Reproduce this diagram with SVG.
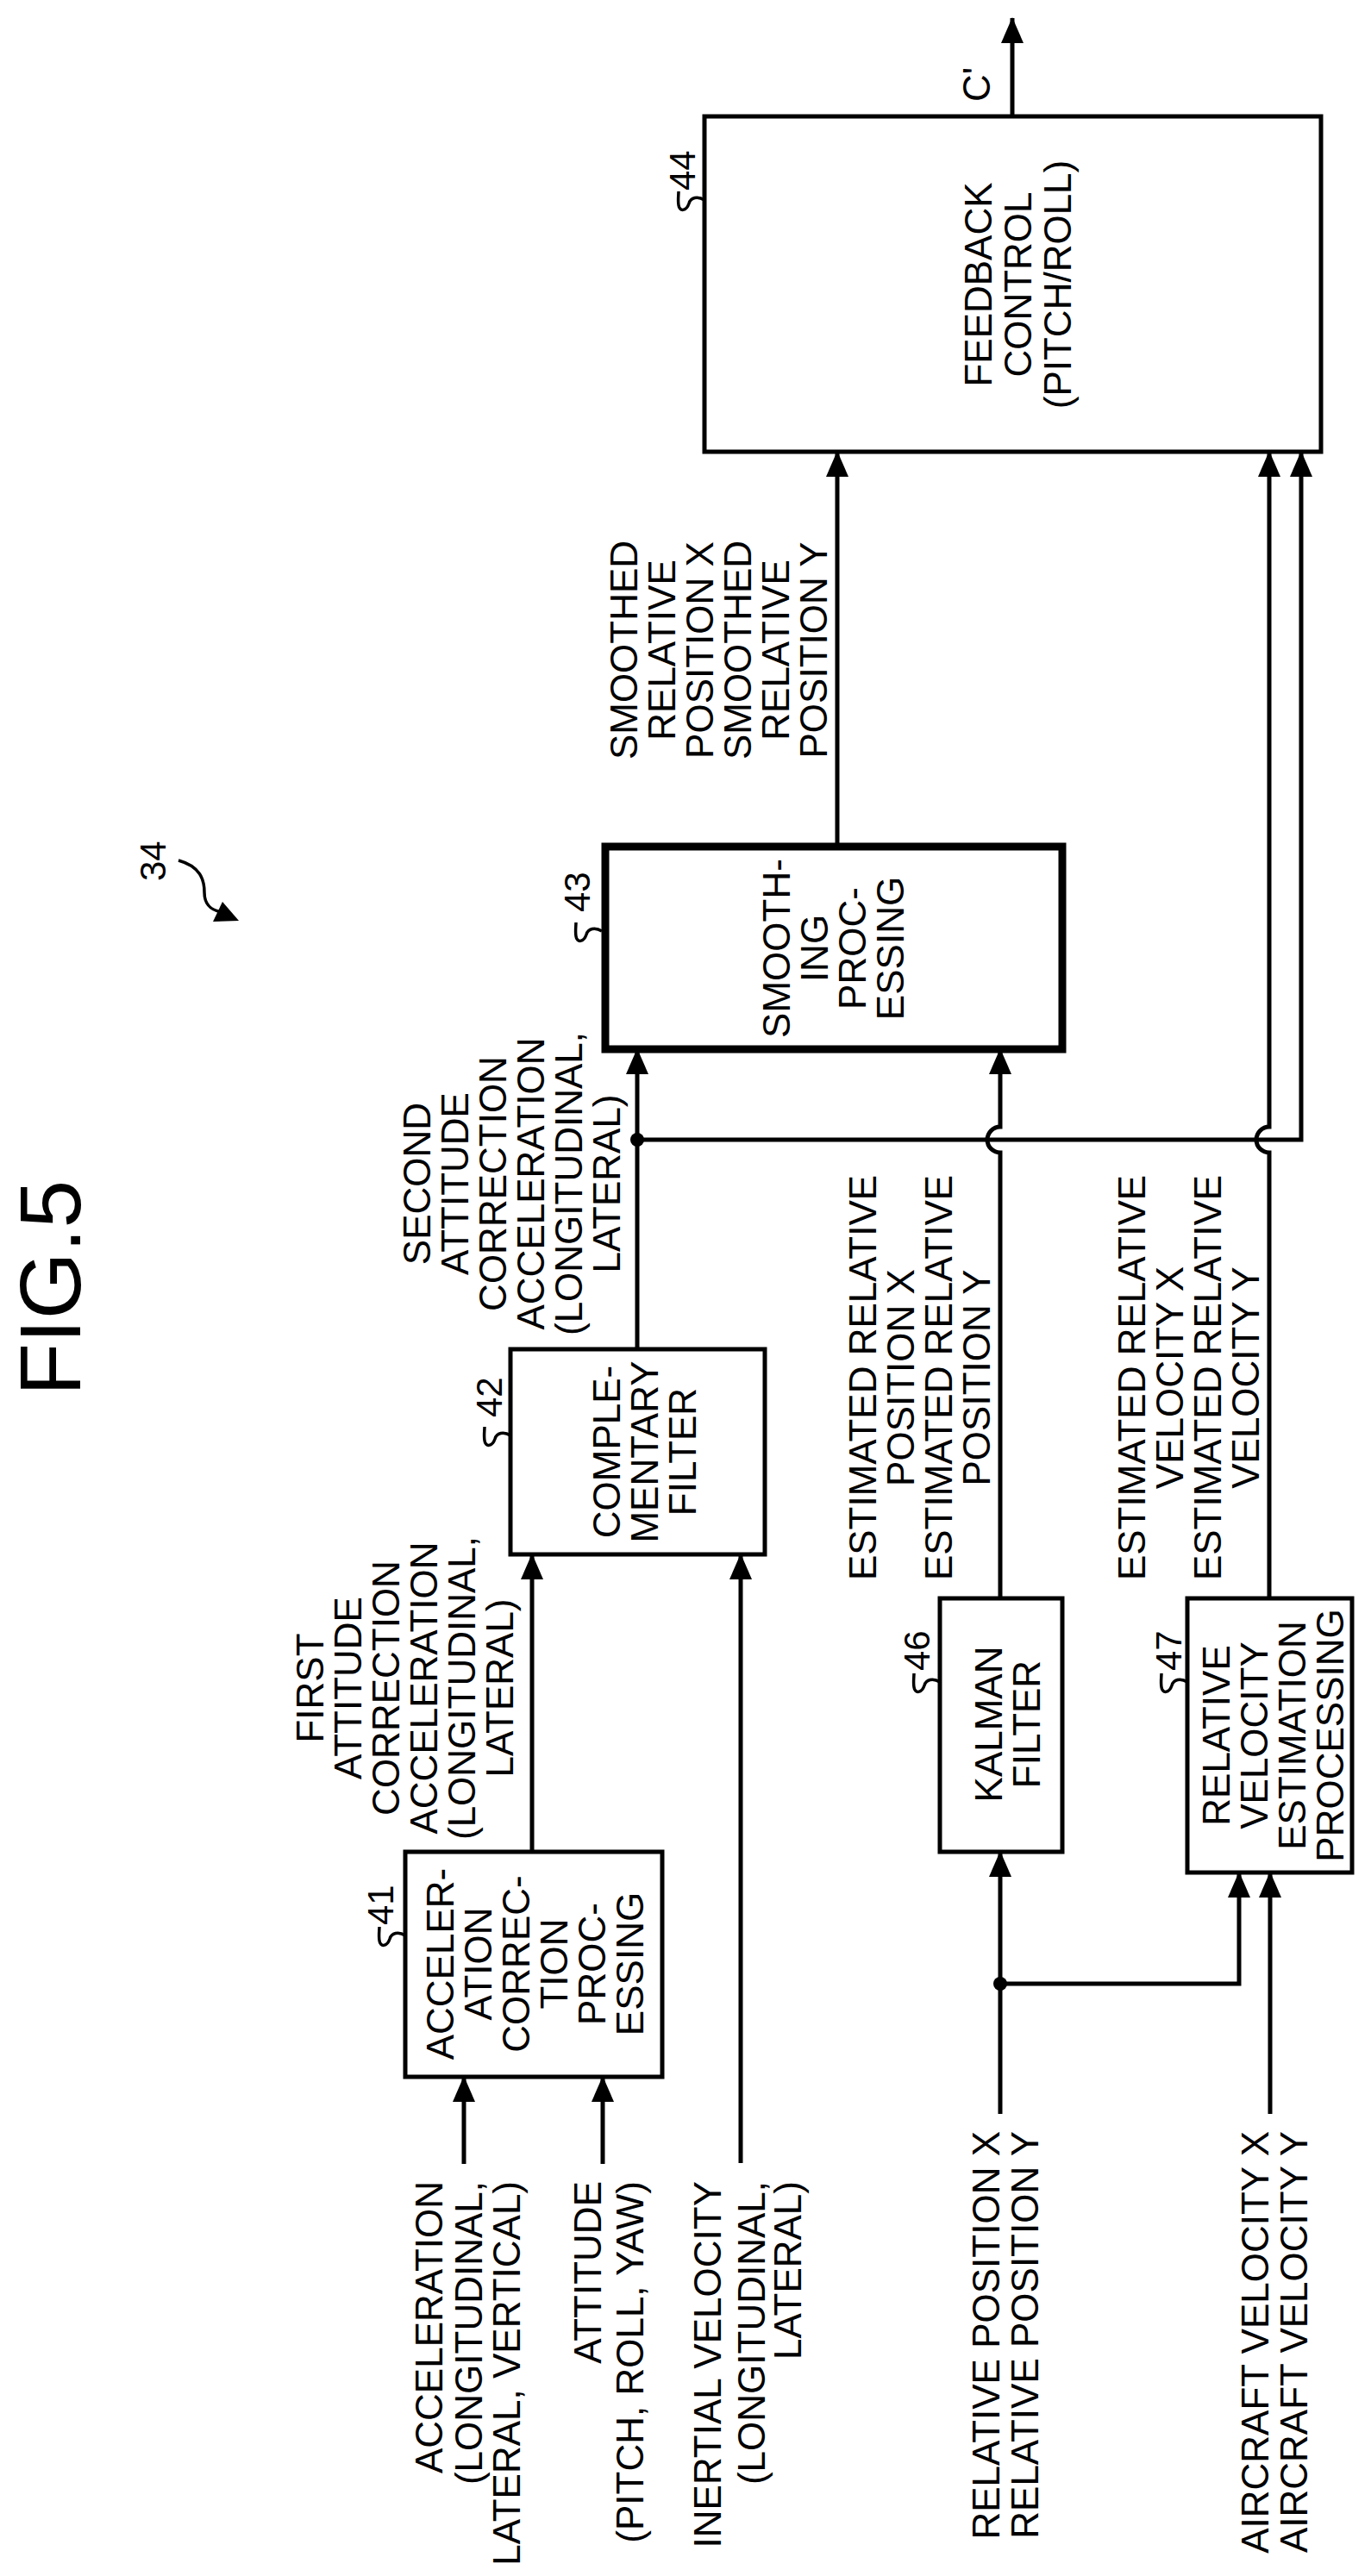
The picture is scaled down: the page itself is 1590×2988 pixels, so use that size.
<svg xmlns="http://www.w3.org/2000/svg" width="1590" height="2988" viewBox="0 0 1590 2988">
<style>
text{font-family:"Liberation Sans",Arial,sans-serif;font-size:44px;fill:#000}
.m{text-anchor:middle}.e{text-anchor:end}.s{text-anchor:start}
.n{font-size:42px}
.box{fill:#fff;stroke:#000;stroke-width:5}
.bold{stroke-width:9}
.ln{fill:none;stroke:#000;stroke-width:5}
.sq{fill:none;stroke:#000;stroke-width:3.5}
</style>
<defs>
<marker id="ah" viewBox="0 0 30 30" refX="29" refY="15" markerWidth="30" markerHeight="30" markerUnits="userSpaceOnUse" orient="auto">
<path d="M0,2 L30,15 L0,28 Z" fill="#000"/>
</marker>
</defs>
<rect width="1590" height="2988" fill="#fff"/>
<text transform="rotate(-90)" x="-1494" y="93" class="m" style="font-size:100px">FIG.5</text>
<g id="ref34">
<text transform="rotate(-90)" x="-1022" y="192" class="s n">34</text>
<path class="sq" d="M207,998 C232,1005 237,1020 237,1035 C237,1050 245,1056 258,1058"/>
<polygon points="258,1046 247,1069 277,1068"/>
</g>
<g id="connectors">
<path class="ln" d="M538,2510 V2409" marker-end="url(#ah)"/>
<path class="ln" d="M699,2510 V2409" marker-end="url(#ah)"/>
<path class="ln" d="M617,2148 V1803" marker-end="url(#ah)"/>
<path class="ln" d="M859,2509 V1803" marker-end="url(#ah)"/>
<path class="ln" d="M739,1565 V1217" marker-end="url(#ah)"/>
<path class="ln" d="M739,1322 H1509 V524" marker-end="url(#ah)"/>
<circle cx="739" cy="1322" r="8"/>
<path class="ln" d="M1160,1854 V1337 A15,15 0 0 1 1160,1307 V1217" marker-end="url(#ah)"/>
<path class="ln" d="M1472,1854 V1337 A15,15 0 0 1 1472,1307 V524" marker-end="url(#ah)"/>
<path class="ln" d="M971,982 V524" marker-end="url(#ah)"/>
<path class="ln" d="M1174,135 V21" marker-end="url(#ah)"/>
<path class="ln" d="M1160,2452 V2148" marker-end="url(#ah)"/>
<path class="ln" d="M1160,2301 H1437 V2172" marker-end="url(#ah)"/>
<circle cx="1160" cy="2301" r="8"/>
<path class="ln" d="M1473,2452 V2172" marker-end="url(#ah)"/>
</g>
<g id="labels">
<text transform="rotate(-90)" class="e" x="-2530" y="513">ACCELERATION</text>
<text transform="rotate(-90)" class="e" x="-2530" y="559">(LONGITUDINAL,</text>
<text transform="rotate(-90)" class="e" x="-2530" y="603">LATERAL, VERTICAL)</text>
<text transform="rotate(-90)" class="e" x="-2530" y="697">ATTITUDE</text>
<text transform="rotate(-90)" class="e" x="-2530" y="746">(PITCH, ROLL, YAW)</text>
<text transform="rotate(-90)" class="e" x="-2530" y="836">INERTIAL VELOCITY</text>
<text transform="rotate(-90)" class="e" x="-2530" y="887">(LONGITUDINAL,</text>
<text transform="rotate(-90)" class="e" x="-2530" y="929">LATERAL)</text>
<text transform="rotate(-90)" class="e" x="-2472" y="1159">RELATIVE POSITION X</text>
<text transform="rotate(-90)" class="e" x="-2472" y="1204">RELATIVE POSITION Y</text>
<text transform="rotate(-90)" class="e" x="-2472" y="1471">AIRCRAFT VELOCITY X</text>
<text transform="rotate(-90)" class="e" x="-2472" y="1516">AIRCRAFT VELOCITY Y</text>
<text transform="rotate(-90)" class="m" x="-1958" y="375">FIRST</text>
<text transform="rotate(-90)" class="m" x="-1958" y="419">ATTITUDE</text>
<text transform="rotate(-90)" class="m" x="-1958" y="463">CORRECTION</text>
<text transform="rotate(-90)" class="m" x="-1958" y="507">ACCELERATION</text>
<text transform="rotate(-90)" class="m" x="-1958" y="551">(LONGITUDINAL,</text>
<text transform="rotate(-90)" class="m" x="-1958" y="595">LATERAL)</text>
<text transform="rotate(-90)" class="m" x="-1373" y="499">SECOND</text>
<text transform="rotate(-90)" class="m" x="-1373" y="543">ATTITUDE</text>
<text transform="rotate(-90)" class="m" x="-1373" y="587">CORRECTION</text>
<text transform="rotate(-90)" class="m" x="-1373" y="631">ACCELERATION</text>
<text transform="rotate(-90)" class="m" x="-1373" y="675">(LONGITUDINAL,</text>
<text transform="rotate(-90)" class="m" x="-1373" y="719">LATERAL)</text>
<text transform="rotate(-90)" class="m" x="-754" y="739">SMOOTHED</text>
<text transform="rotate(-90)" class="m" x="-754" y="783">RELATIVE</text>
<text transform="rotate(-90)" class="m" x="-754" y="827">POSITION X</text>
<text transform="rotate(-90)" class="m" x="-754" y="871">SMOOTHED</text>
<text transform="rotate(-90)" class="m" x="-754" y="915">RELATIVE</text>
<text transform="rotate(-90)" class="m" x="-754" y="959">POSITION Y</text>
<text transform="rotate(-90)" class="m" x="-1598" y="1016">ESTIMATED RELATIVE</text>
<text transform="rotate(-90)" class="m" x="-1598" y="1060">POSITION X</text>
<text transform="rotate(-90)" class="m" x="-1598" y="1104">ESTIMATED RELATIVE</text>
<text transform="rotate(-90)" class="m" x="-1598" y="1148">POSITION Y</text>
<text transform="rotate(-90)" class="m" x="-1598" y="1328">ESTIMATED RELATIVE</text>
<text transform="rotate(-90)" class="m" x="-1598" y="1372">VELOCITY X</text>
<text transform="rotate(-90)" class="m" x="-1598" y="1416">ESTIMATED RELATIVE</text>
<text transform="rotate(-90)" class="m" x="-1598" y="1460">VELOCITY Y</text>
<text transform="rotate(-90)" class="m" x="-98" y="1148">C'</text>
</g>
<g id="node41">
<rect class="box" x="470" y="2148" width="298" height="261"/>
<text transform="rotate(-90)" class="m" x="-2278" y="526">ACCELER-</text>
<text transform="rotate(-90)" class="m" x="-2278" y="570">ATION</text>
<text transform="rotate(-90)" class="m" x="-2278" y="614">CORREC-</text>
<text transform="rotate(-90)" class="m" x="-2278" y="658">TION</text>
<text transform="rotate(-90)" class="m" x="-2278" y="702">PROC-</text>
<text transform="rotate(-90)" class="m" x="-2278" y="746">ESSING</text>
<path class="sq" transform="translate(470,2245)" d="M0,0 c-8,-5 -16,-3 -18,4 c-3,9 -11,10 -12,2 c-1,-6 0,-12 0,-16"/>
<text transform="rotate(-90)" class="s n" x="-2233" y="456">41</text>
</g>
<g id="node42">
<rect class="box" x="592" y="1565" width="295" height="238"/>
<text transform="rotate(-90)" class="m" x="-1684" y="719">COMPLE-</text>
<text transform="rotate(-90)" class="m" x="-1684" y="763">MENTARY</text>
<text transform="rotate(-90)" class="m" x="-1684" y="807">FILTER</text>
<path class="sq" transform="translate(592,1665)" d="M0,0 c-8,-5 -16,-3 -18,4 c-3,9 -11,10 -12,2 c-1,-6 0,-12 0,-16"/>
<text transform="rotate(-90)" class="s n" x="-1644" y="582">42</text>
</g>
<g id="node43">
<rect class="box bold" x="702" y="982" width="530" height="235"/>
<text transform="rotate(-90)" class="m" x="-1100" y="916">SMOOTH-</text>
<text transform="rotate(-90)" class="m" x="-1100" y="960">ING</text>
<text transform="rotate(-90)" class="m" x="-1100" y="1004">PROC-</text>
<text transform="rotate(-90)" class="m" x="-1100" y="1048">ESSING</text>
<path class="sq" transform="translate(698,1080)" d="M0,0 c-8,-5 -16,-3 -18,4 c-3,9 -11,10 -12,2 c-1,-6 0,-12 0,-16"/>
<text transform="rotate(-90)" class="s n" x="-1058" y="684">43</text>
</g>
<g id="node44">
<rect class="box" x="817" y="135" width="715" height="389"/>
<text transform="rotate(-90)" class="m" x="-330" y="1150">FEEDBACK</text>
<text transform="rotate(-90)" class="m" x="-330" y="1196">CONTROL</text>
<text transform="rotate(-90)" class="m" x="-330" y="1242">(PITCH/ROLL)</text>
<path class="sq" transform="translate(817,232)" d="M0,0 c-8,-5 -16,-3 -18,4 c-3,9 -11,10 -12,2 c-1,-6 0,-12 0,-16"/>
<text transform="rotate(-90)" class="s n" x="-221" y="806">44</text>
</g>
<g id="node46">
<rect class="box" x="1090" y="1854" width="142" height="294"/>
<text transform="rotate(-90)" class="m" x="-2000" y="1162">KALMAN</text>
<text transform="rotate(-90)" class="m" x="-2000" y="1206">FILTER</text>
<path class="sq" transform="translate(1090,1951)" d="M0,0 c-8,-5 -16,-3 -18,4 c-3,9 -11,10 -12,2 c-1,-6 0,-12 0,-16"/>
<text transform="rotate(-90)" class="s n" x="-1938" y="1078">46</text>
</g>
<g id="node47">
<rect class="box" x="1377" y="1854" width="191" height="318"/>
<text transform="rotate(-90)" class="m" x="-2013" y="1426">RELATIVE</text>
<text transform="rotate(-90)" class="m" x="-2013" y="1470">VELOCITY</text>
<text transform="rotate(-90)" class="m" x="-2013" y="1514">ESTIMATION</text>
<text transform="rotate(-90)" class="m" x="-2013" y="1558">PROCESSING</text>
<path class="sq" transform="translate(1377,1951)" d="M0,0 c-8,-5 -16,-3 -18,4 c-3,9 -11,10 -12,2 c-1,-6 0,-12 0,-16"/>
<text transform="rotate(-90)" class="s n" x="-1938" y="1370">47</text>
</g>
</svg>
